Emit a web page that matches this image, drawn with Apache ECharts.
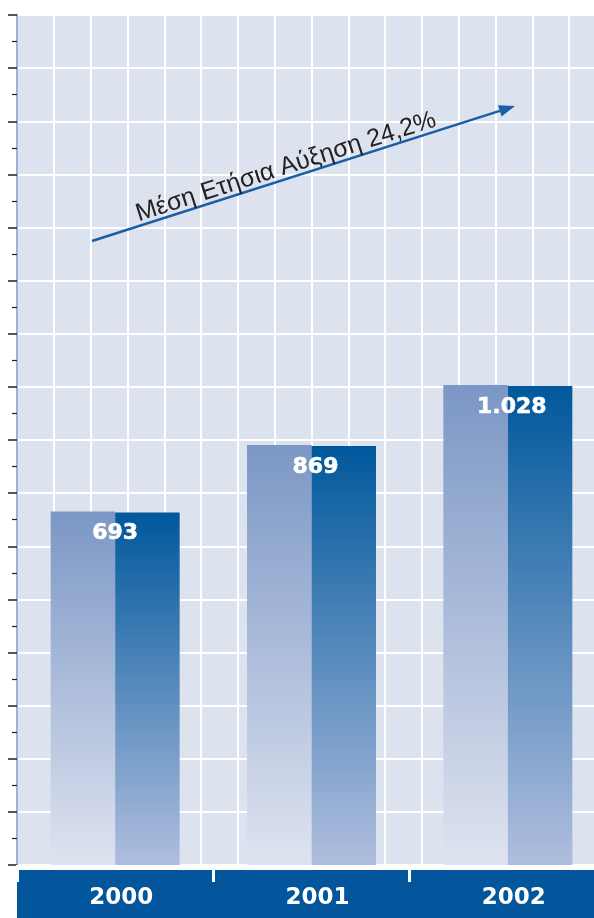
<!DOCTYPE html>
<html>
<head>
<meta charset="utf-8">
<script src="https://cdn.jsdelivr.net/npm/echarts@6/dist/echarts.min.js"></script>
<style>
  html, body { margin:0; padding:0; background:#fff; }
  #chart { width:594px; height:918px; }
</style>
</head>
<body>
<div id="chart"></div>
<script>
// data
const years = ['2000', '2001', '2002']
const values = [693, 869, 1028]
const trendText = 'Μέση Ετήσια Αύξηση 24,2%'

// value scale of the bars (baseline sits below zero in the original)
const Y_MIN = -243
const Y_MAX = 2008

const fmt = v => String(v).replace(/\B(?=(\d{3})+(?!\d))/g, '.')

const leftFill = () => new echarts.graphic.LinearGradient(0, 0, 0, 1, [
  { offset: 0, color: '#7b97c5' },
  { offset: 1, color: '#dfe3f0' }
])
const rightFill = () => new echarts.graphic.LinearGradient(0, 0, 0, 1, [
  { offset: 0, color: '#00589c' },
  { offset: 1, color: '#b0bede' }
])

const renderBar = (params, api) => {
  const idx = api.value(0)
  const v = api.value(1)
  const top = api.coord([idx, v])
  const base = api.coord([idx, Y_MIN])
  const half = api.size([1, 0])[0] * 0.657 / 2
  const h = base[1] - top[1]
  return {
    type: 'group',
    children: [
      { type: 'rect', shape: { x: top[0] - half, y: top[1], width: half, height: h }, style: { fill: leftFill() } },
      { type: 'rect', shape: { x: top[0], y: top[1] + 1, width: half, height: h - 1 }, style: { fill: rightFill() } },
      { type: 'text', x: top[0] + (idx ? 4 : 0), y: top[1] + 22, style: { text: fmt(v), fill: '#fff', font: 'bold 22px "DejaVu Sans"', align: 'center', verticalAlign: 'middle', stroke: '#fff', lineWidth: 0.6 } }
    ]
  }
}

const chart = echarts.init(document.getElementById('chart'))

// arrow geometry
const ax0 = [92, 241], ax1 = [515, 106]
const dx = ax1[0] - ax0[0], dy = ax1[1] - ax0[1]
const len = Math.sqrt(dx * dx + dy * dy)
const ux = dx / len, uy = dy / len
const hb = [ax1[0] - 16 * ux, ax1[1] - 16 * uy]
const angle = Math.atan2(-dy, dx)

chart.setOption({
  backgroundColor: '#fff',
  animation: false,
  grid: { left: 17, top: 15, width: 589, height: 850, show: true, backgroundColor: '#dde2ef', borderWidth: 0, outerBoundsMode: 'none', containLabel: false },
  xAxis: [
    {
      type: 'category',
      data: years,
      z: 5,
      axisLine: { show: false, onZero: false },
      axisTick: { show: true, length: 17, lineStyle: { color: '#fff', width: 3 } },
      axisLabel: { color: '#fff', fontFamily: 'DejaVu Sans', fontWeight: 'bold', fontSize: 23, margin: 22, padding: [0, 0, 0, 12] },
      splitLine: { show: false }
    },
    {
      type: 'value', position: 'top', min: 0, max: 16, interval: 1,
      axisLine: { show: false }, axisTick: { show: false }, axisLabel: { show: false },
      splitLine: { show: true, lineStyle: { color: '#fff', width: 2 } }
    }
  ],
  yAxis: [
    { type: 'value', min: Y_MIN, max: Y_MAX, show: false, splitLine: { show: false } },
    {
      type: 'value', position: 'left', min: 0, max: 16, interval: 1,
      axisLine: { show: true, lineStyle: { color: '#9fb1d4', width: 2 } },
      axisTick: { show: true, length: 9, lineStyle: { color: '#222', width: 1.5 } },
      minorTick: { show: true, splitNumber: 2, length: 5, lineStyle: { color: '#222', width: 1.2 } },
      axisLabel: { show: false },
      splitLine: { show: true, lineStyle: { color: '#fff', width: 2 } }
    }
  ],
  series: [{
    type: 'custom',
    xAxisIndex: 0,
    yAxisIndex: 0,
    renderItem: renderBar,
    data: years.map((y, i) => [i, values[i]])
  }],
  graphic: [
    { type: 'rect', z: 0, shape: { x: 17, y: 870, width: 577, height: 48 }, style: { fill: '#03569b' } },
    { type: 'line', z: 10, shape: { x1: ax0[0], y1: ax0[1], x2: hb[0], y2: hb[1] }, style: { stroke: '#1a5fa6', lineWidth: 2.5 } },
    {
      type: 'polygon', z: 10,
      shape: { points: [ax1, [hb[0] - 6 * uy, hb[1] + 6 * ux], [hb[0] + 6 * uy, hb[1] - 6 * ux]] },
      style: { fill: '#1a5fa6' }
    },
    {
      type: 'text', z: 10, x: 286, y: 167, rotation: angle,
      style: { text: trendText, fill: '#222', font: '25px "Liberation Sans"', align: 'center', verticalAlign: 'middle' }
    }
  ]
})
</script>
</body>
</html>
